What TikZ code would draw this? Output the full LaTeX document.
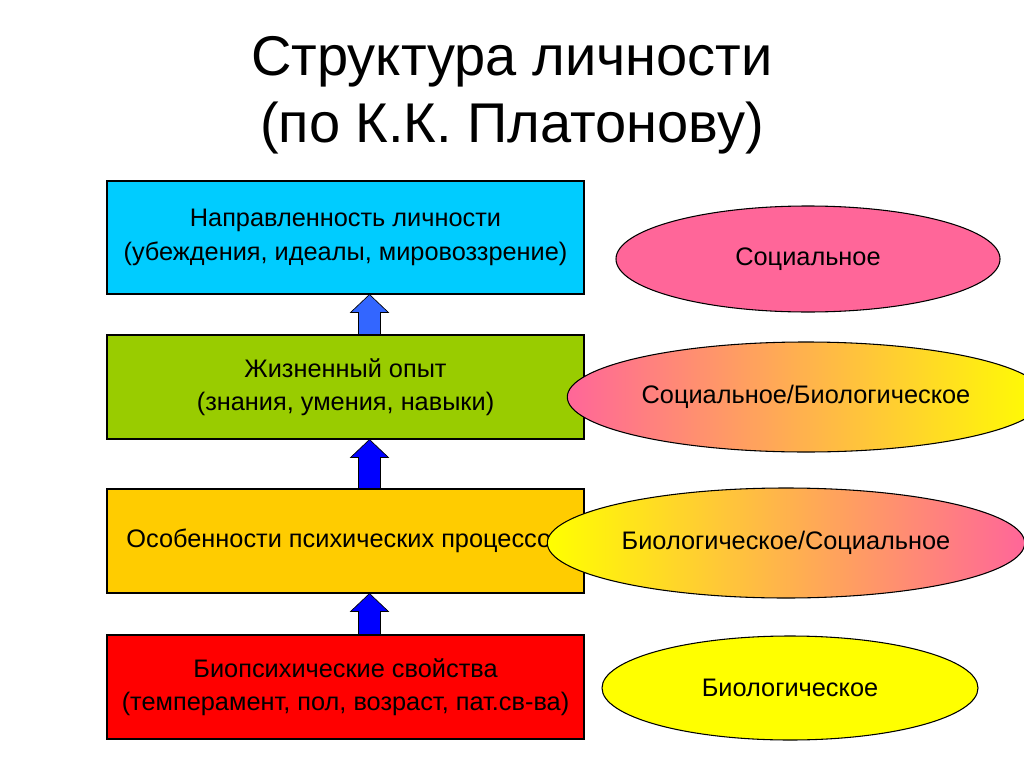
\documentclass[tikz,border=0pt]{standalone}
\usepackage{fontspec}
\setmainfont{Liberation Sans}
\usetikzlibrary{shapes.geometric,calc}
\definecolor{cyanbox}{RGB}{0,204,255}
\definecolor{greenbox}{RGB}{153,204,0}
\definecolor{orangebox}{RGB}{255,204,0}
\definecolor{redbox}{RGB}{255,0,0}
\definecolor{pinkell}{RGB}{255,102,153}
\definecolor{yellell}{RGB}{255,255,0}
\definecolor{lightblue}{RGB}{51,102,255}
\begin{document}
\begin{tikzpicture}[x=0.75pt,y=-0.75pt,
  box/.style={draw=black,line width=0.8pt,minimum width=477*0.75pt,align=center,font=\fontsize{19}{25}\selectfont},
  ell/.style={draw=black,line width=0.8pt,ellipse,font=\fontsize{19}{23}\selectfont},
  arr/.style={draw=black,line width=0.5pt}]
\useasboundingbox (0,0) rectangle (1024,767);
\fill[white] (0,0) rectangle (1024,767);
\node (t1) at (512,62) {\fontsize{42}{46}\selectfont Структура личности};
\node (t2) at (512,128) {\fontsize{42}{46}\selectfont (по К.К. Платонову)};
\node[box,fill=cyanbox,minimum height=113*0.75pt] (b1) at (345.5,237.5) {Направленность личности\\(убеждения, идеалы, мировоззрение)};
\node[box,fill=greenbox,minimum height=104*0.75pt] (b2) at (345.5,387) {Жизненный опыт\\(знания, умения, навыки)};
\node[box,fill=orangebox,minimum height=104*0.75pt] (b3) at (345.5,541) {Особенности психических процессов};
\node[box,fill=redbox,minimum height=104*0.75pt] (b4) at (345.5,687) {Биопсихические свойства\\(темперамент, пол, возраст, пат.св-ва)};
\foreach \lo/\up/\col in {b2/b1/lightblue,b3/b2/blue,b4/b3/blue}{
  \path (\lo.north) ++(24,0) coordinate (lo) (\up.south) ++(24,0) coordinate (up);
  \draw[arr,fill=\col] ($(lo)+(-11,0)$) -- ($(up)+(-11,18)$) -- ($(up)+(-19,18)$) -- (up) -- ($(up)+(19,18)$) -- ($(up)+(11,18)$) -- ($(lo)+(11,0)$) -- cycle;
}
\node[ell,fill=pinkell,minimum width=384*0.75pt,minimum height=106*0.75pt] (e1) at (808,259) {Социальное};
\node[ell,left color=pinkell,right color=yellell,minimum width=392*0.75pt,minimum height=110*0.75pt] (e2) at (806,397) {Социальное/Биологическое};
\node[ell,left color=yellell,right color=pinkell,minimum width=384*0.75pt,minimum height=110*0.75pt] (e3) at (786,543) {Биологическое/Социальное};
\node[ell,fill=yellell,minimum width=376*0.75pt,minimum height=104*0.75pt] (e4) at (790,688) {Биологическое};
\end{tikzpicture}
\end{document}
